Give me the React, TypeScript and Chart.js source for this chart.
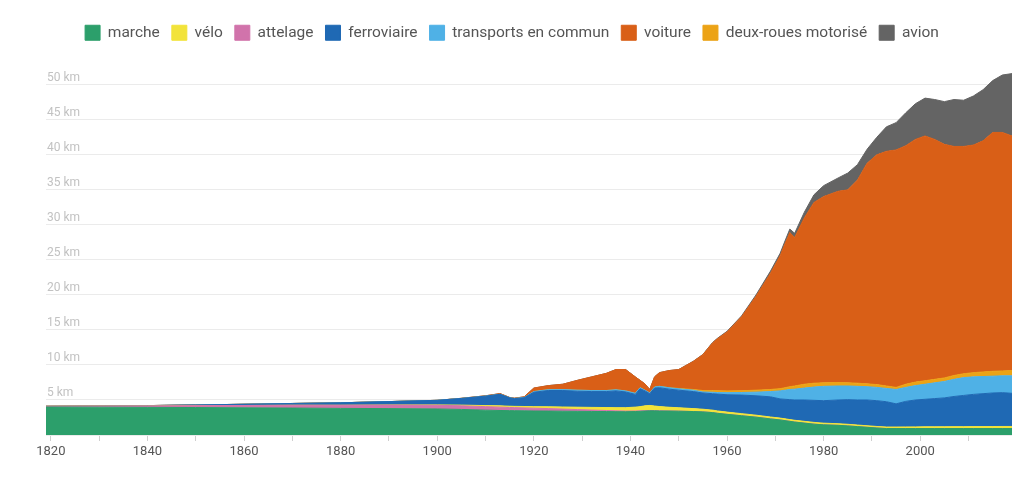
import React, { useEffect, useRef } from 'react';
import { Chart, registerables } from 'chart.js';

Chart.register(...registerables);

const years = [
  1819, 1830, 1840, 1850, 1860, 1870, 1880, 1890, 1900, 1905,
  1910, 1913, 1915, 1916, 1918, 1920, 1923, 1926, 1929, 1932,
  1935, 1937, 1939, 1941, 1942, 1943, 1944, 1945, 1946, 1948,
  1950, 1953, 1955, 1957, 1958, 1960, 1963, 1966, 1969, 1971,
  1972, 1973, 1974, 1976, 1978, 1980, 1983, 1985, 1987, 1989,
  1991, 1993, 1995, 1997, 1999, 2001, 2003, 2005, 2007, 2009,
  2011, 2013, 2015, 2017, 2019,
];

const marche = [
  4.0, 3.98, 3.95, 3.92, 3.88, 3.85, 3.8, 3.77, 3.72, 3.65,
  3.55, 3.5, 3.48, 3.47, 3.45, 3.43, 3.42, 3.4, 3.38, 3.36,
  3.35, 3.33, 3.32, 3.35, 3.38, 3.42, 3.45, 3.45, 3.43, 3.42,
  3.4, 3.35, 3.3, 3.2, 3.1, 2.95, 2.75, 2.55, 2.3, 2.15,
  2.05, 1.95, 1.85, 1.7, 1.55, 1.45, 1.38, 1.3, 1.2, 1.1,
  1.0, 0.92, 0.92, 0.92, 0.92, 0.92, 0.92, 0.92, 0.92, 0.92,
  0.92, 0.92, 0.92, 0.92, 0.92,
];

const attelage = [
  0.1, 0.15, 0.2, 0.27, 0.33, 0.4, 0.45, 0.5, 0.52, 0.52,
  0.5, 0.48, 0.45, 0.44, 0.42, 0.4, 0.35, 0.3, 0.25, 0.2,
  0.15, 0.12, 0.1, 0.08, 0.07, 0.06, 0.05, 0.04, 0.03, 0.02,
  0.01, 0, 0, 0, 0, 0, 0, 0, 0, 0,
  0, 0, 0, 0, 0, 0, 0, 0, 0, 0,
  0, 0, 0, 0, 0, 0, 0, 0, 0, 0,
  0, 0, 0, 0, 0,
];

const velo = [
  0, 0, 0, 0, 0, 0, 0, 0.02, 0.06, 0.1,
  0.15, 0.18, 0.18, 0.18, 0.2, 0.22, 0.26, 0.3, 0.34, 0.38,
  0.42, 0.45, 0.48, 0.55, 0.6, 0.68, 0.72, 0.65, 0.6, 0.52,
  0.48, 0.42, 0.38, 0.35, 0.34, 0.32, 0.3, 0.28, 0.27, 0.26,
  0.26, 0.25, 0.25, 0.25, 0.25, 0.24, 0.23, 0.23, 0.22, 0.22,
  0.22, 0.22, 0.22, 0.23, 0.24, 0.25, 0.25, 0.26, 0.27, 0.27,
  0.28, 0.28, 0.29, 0.3, 0.3,
];

const ferroviaire = [
  0, 0.01, 0.05, 0.1, 0.18, 0.25, 0.35, 0.48, 0.65, 0.95,
  1.35, 1.65, 1.2, 1.1, 1.25, 2.05, 2.32, 2.35, 2.28, 2.26,
  2.28, 2.4, 2.25, 1.82, 2.55, 2.14, 1.68, 2.56, 2.69, 2.59,
  2.51, 2.43, 2.32, 2.35, 2.4, 2.48, 2.65, 2.77, 2.88, 2.74,
  2.79, 2.85, 2.9, 3.05, 3.15, 3.21, 3.39, 3.52, 3.58, 3.68,
  3.68, 3.61, 3.31, 3.65, 3.84, 3.93, 4.03, 4.12, 4.31, 4.46,
  4.6, 4.7, 4.79, 4.83, 4.73,
];

const transports = [
  0, 0, 0, 0, 0, 0, 0, 0, 0, 0,
  0, 0, 0, 0.02, 0.03, 0.1, 0.12, 0.13, 0.15, 0.15,
  0.15, 0.15, 0.15, 0.15, 0.15, 0.1, 0.1, 0.15, 0.2, 0.2,
  0.2, 0.2, 0.15, 0.2, 0.22, 0.3, 0.37, 0.52, 0.75, 1.15,
  1.3, 1.45, 1.55, 1.7, 1.9, 2.05, 2.0, 1.95, 1.95, 1.9,
  1.9, 1.9, 2.05, 2.0, 2.05, 2.15, 2.25, 2.35, 2.45, 2.55,
  2.5, 2.45, 2.4, 2.4, 2.5,
];

const deuxRoues = [
  0, 0, 0, 0, 0, 0, 0, 0, 0, 0,
  0, 0, 0, 0, 0, 0, 0, 0, 0, 0,
  0, 0, 0, 0, 0, 0, 0, 0, 0, 0,
  0.05, 0.1, 0.2, 0.25, 0.26, 0.25, 0.25, 0.28, 0.3, 0.32,
  0.35, 0.4, 0.45, 0.55, 0.55, 0.5, 0.5, 0.45, 0.45, 0.4,
  0.4, 0.35, 0.3, 0.45, 0.5, 0.5, 0.5, 0.5, 0.55, 0.55,
  0.6, 0.65, 0.7, 0.7, 0.75,
];

const voiture = [
  0, 0, 0, 0, 0, 0, 0, 0, 0, 0.02,
  0.05, 0.1, 0.05, 0.05, 0.1, 0.5, 0.58, 0.77, 1.4, 1.95,
  2.45, 2.9, 3.05, 2.35, 1.05, 0.9, 0.5, 1.45, 1.95, 2.45,
  2.7, 4.0, 5.12, 6.8, 7.42, 8.42, 10.56, 13.4, 16.6, 18.98,
  20.55, 22.0, 21.2, 23.75, 25.8, 26.6, 27.3, 27.55, 29.0, 31.5,
  32.8, 33.5, 33.9, 34.05, 34.65, 34.95, 34.25, 33.35, 32.7, 32.45,
  32.5, 33.0, 34.1, 34.05, 33.5,
];

const avion = [
  0, 0, 0, 0, 0, 0, 0, 0, 0, 0,
  0, 0, 0, 0, 0, 0, 0, 0, 0, 0,
  0, 0, 0, 0, 0, 0, 0, 0, 0, 0,
  0, 0.02, 0.03, 0.05, 0.06, 0.08, 0.12, 0.2, 0.3, 0.35,
  0.4, 0.5, 0.6, 0.8, 1.1, 1.55, 1.9, 2.4, 2.2, 2.0,
  2.5, 3.5, 3.9, 4.7, 5.1, 5.4, 5.7, 6.1, 6.7, 6.6,
  7.0, 7.3, 7.4, 8.2, 8.9,
];

const legendOrder = [
  'marche', 'vélo', 'attelage', 'ferroviaire',
  'transports en commun', 'voiture', 'deux-roues motorisé', 'avion',
];

// tick marks every 10 years, labels every 20 years
const xTickYears = [
  1820, 1830, 1840, 1850, 1860, 1870, 1880, 1890, 1900, 1910,
  1920, 1930, 1940, 1950, 1960, 1970, 1980, 1990, 2000, 2010,
];
const xTickLabels = [1820, 1840, 1860, 1880, 1900, 1920, 1940, 1960, 1980, 2000];

// bottom-to-top stacking order as drawn in the picture
const series = [
  { label: 'marche', values: marche, color: '#2c9f6b' },
  { label: 'attelage', values: attelage, color: '#d173ab' },
  { label: 'vélo', values: velo, color: '#f2e33a' },
  { label: 'ferroviaire', values: ferroviaire, color: '#1f69b4' },
  { label: 'transports en commun', values: transports, color: '#4fb1e6' },
  { label: 'deux-roues motorisé', values: deuxRoues, color: '#eca316' },
  { label: 'voiture', values: voiture, color: '#d95f17' },
  { label: 'avion', values: avion, color: '#646464' },
];

export default function App() {
  const ref = useRef<HTMLCanvasElement>(null);

  useEffect(() => {
    if (!ref.current) return;
    const chart = new Chart(ref.current, {
      type: 'line',
      data: {
        datasets: series.map((s, i) => ({
          label: s.label,
          data: years.map((y, j) => ({ x: y, y: s.values[j] })),
          backgroundColor: s.color,
          borderColor: s.color,
          borderWidth: 1,
          pointRadius: 0,
          pointHoverRadius: 0,
          tension: 0,
          fill: i === 0 ? 'origin' : '-1',
        })),
      },
      options: {
        responsive: true,
        maintainAspectRatio: false,
        animation: false,
        events: [],
        layout: { padding: { top: 13, right: 12, left: 12, bottom: 0 } },
        plugins: {
          tooltip: { enabled: false },
          legend: {
            position: 'top',
            align: 'center',
            labels: {
              boxWidth: 15,
              boxHeight: 15,
              padding: 12,
              color: '#555555',
              font: { family: 'Roboto', size: 15.5 },
              sort: (a: any, b: any) => legendOrder.indexOf(a.text) - legendOrder.indexOf(b.text),
            },
          },
        },
        scales: {
          x: {
            type: 'linear',
            min: 1819,
            max: 2019,
            afterFit: (scale: any) => { scale.height = 54; },
            afterBuildTicks: (scale: any) => {
              scale.ticks = xTickYears.map((v) => ({ value: v }));
            },
            ticks: {
              autoSkip: false,
              maxRotation: 0,
              padding: 3,
              color: '#555555',
              font: { family: 'Roboto', size: 13 },
              callback: (v: any) => (xTickLabels.includes(Number(v)) ? String(v) : ''),
            },
            grid: {
              drawOnChartArea: false,
              drawTicks: true,
              tickLength: 6,
              color: '#cfcfcf',
            },
            border: { display: false },
          },
          y: {
            type: 'linear',
            stacked: true,
            min: 0,
            max: 54.9,
            afterFit: (scale: any) => { scale.width = 34; },
            ticks: {
              stepSize: 5,
              includeBounds: false,
              mirror: true,
              padding: 1,
              labelOffset: -7,
              color: '#c2c2c2',
              font: { family: 'Roboto', size: 12 },
              callback: (v: any) => (Number(v) === 0 ? '' : `${v} km`),
            },
            grid: { color: '#ebebeb', drawTicks: false },
            border: { display: false },
          },
        },
      },
    });
    return () => chart.destroy();
  }, []);

  return (
    <div style={{ position: 'fixed', left: 0, top: 0, width: 1024, height: 489, background: '#ffffff' }}>
      <canvas ref={ref} />
    </div>
  );
}
